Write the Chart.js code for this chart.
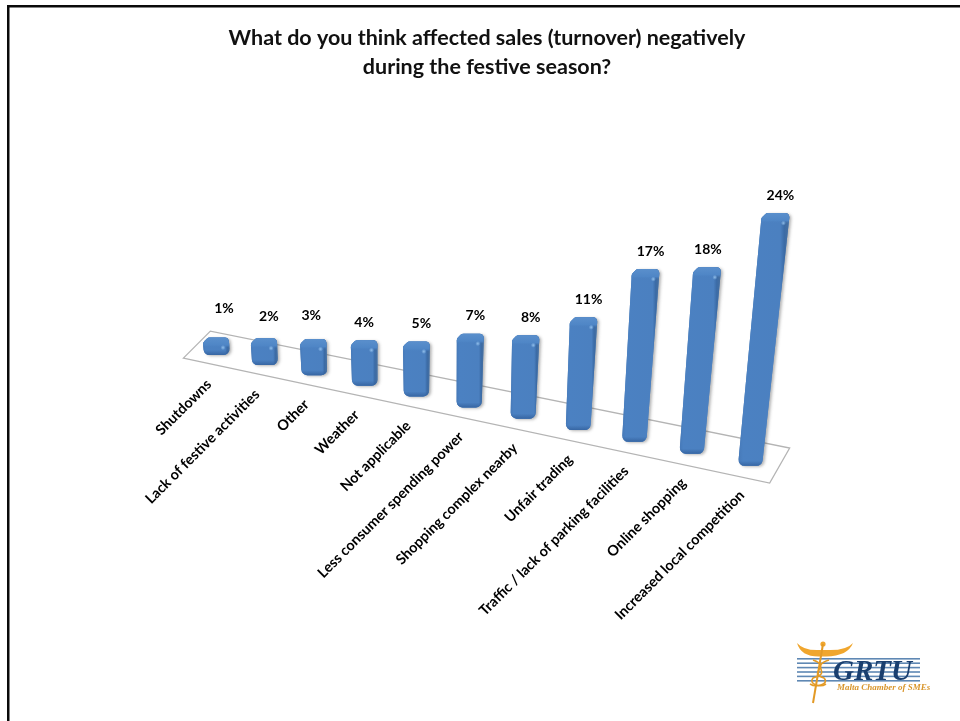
<!DOCTYPE html>
<html><head><meta charset="utf-8">
<style>html,body{margin:0;padding:0;background:#fff}canvas{display:block}</style>
<script src="https://cdn.jsdelivr.net/npm/chart.js@4"></script>
</head><body><canvas id="c" width="960" height="721"></canvas>
<script>
const categories = ["Shutdowns","Lack of festive activities","Other","Weather","Not applicable","Less consumer spending power","Shopping complex nearby","Unfair trading","Traffic / lack of parking facilities","Online shopping","Increased local competition"];
const values = [1,2,3,4,5,7,8,11,17,18,24];
const titleLines = ["What do you think affected sales (turnover) negatively","during the festive season?"];

const FONT = 'Lato, "Open Sans", sans-serif';
let chartRef = null;

// perspective floor: category pixel -> point on slanted floor
function project(px){
  const a = chartRef.chartArea, n = categories.length;
  const u = ((px - a.left) / (a.right - a.left) - 0.5 / n) * n / (n - 1);
  const bx = 217 + 533 * (0.892 * u + 0.108 * u * u);
  return {u, bx, by: 355 + 0.208 * (bx - 217)};
}
function barGeom(el){
  const p = el.getProps(['x','y','base'], true);
  const f = project(p.x);
  const near = Math.max(0, f.u - 0.5);
  const H = (p.base - p.y) * (0.94 + 0.32 * near * near) + 8;
  const lean = 0.0003 * (f.bx - 415);
  return {f, H, xb: f.bx, yb: f.by, xt: f.bx + lean * H, yt: f.by - H,
          wb: 26 - 2 * f.u, wt: 26 + 2 * f.u};
}
// rounded polygon; each point may carry its own corner radius as third item
function roundPoly(ctx, pts){
  const n = pts.length, m = i => pts[(i + n) % n];
  ctx.beginPath();
  ctx.moveTo((m(-1)[0] + m(0)[0]) / 2, (m(-1)[1] + m(0)[1]) / 2);
  for (let i = 0; i < n; i++) ctx.arcTo(m(i)[0], m(i)[1], (m(i)[0] + m(i+1)[0]) / 2, (m(i)[1] + m(i+1)[1]) / 2, m(i)[2]);
  ctx.closePath();
}

class Bar3D extends Chart.BarElement {
  draw(ctx){
    const g = barGeom(this);
    const L = g.xt - g.wt / 2, R = g.xt + g.wt / 2, l = g.xb - g.wb / 2, r = g.xb + g.wb / 2;
    const outline = [[L, g.yt + 5, 4], [L + 5, g.yt, 4], [R - 1, g.yt, 4], [R, g.yt + 4, 4], [r, g.yb, 6], [l, g.yb, 6]];
    ctx.save();
    ctx.shadowColor = 'rgba(90,90,90,0.45)'; ctx.shadowOffsetX = 2; ctx.shadowOffsetY = 1; ctx.shadowBlur = 3;
    roundPoly(ctx, outline);
    ctx.fillStyle = '#4a7ebb'; ctx.fill();
    ctx.restore();
    ctx.save();
    roundPoly(ctx, outline);
    ctx.clip();
    const x0 = Math.min(L, l), x1 = Math.max(R, r);
    const gr = ctx.createLinearGradient(x0, 0, x1, 0);
    gr.addColorStop(0, '#4679b8'); gr.addColorStop(0.1, '#4b81c2');
    gr.addColorStop(0.82, '#4b80c0'); gr.addColorStop(0.9, '#3b6ba6'); gr.addColorStop(1, '#4a719f');
    ctx.fillStyle = gr; ctx.fillRect(x0 - 1, g.yt - 1, x1 - x0 + 2, g.H + 2);
    // top bevel
    const cap = ctx.createLinearGradient(0, g.yt, 0, g.yt + 10);
    cap.addColorStop(0, '#5a8fcc'); cap.addColorStop(0.75, '#4f86c6'); cap.addColorStop(1, 'rgba(75,128,192,0)');
    ctx.fillStyle = cap; ctx.fillRect(x0 - 1, g.yt - 1, x1 - x0 + 2, 11);
    // bottom edge
    const bot = ctx.createLinearGradient(0, g.yb - 5, 0, g.yb);
    bot.addColorStop(0, 'rgba(50,95,155,0)'); bot.addColorStop(1, 'rgba(50,95,155,0.8)');
    ctx.fillStyle = bot; ctx.fillRect(x0 - 1, g.yb - 5, x1 - x0 + 2, 6);
    // specular dot
    const hx = g.xt + g.wt / 2 - 6, hy = g.yt + 10;
    const sp = ctx.createRadialGradient(hx, hy, 0, hx, hy, 2.5);
    sp.addColorStop(0, 'rgba(160,205,245,0.8)'); sp.addColorStop(1, 'rgba(160,205,245,0)');
    ctx.fillStyle = sp; ctx.fillRect(hx - 3, hy - 3, 6, 6);
    ctx.restore();
  }
}
Bar3D.id = 'bar3d';
Bar3D.defaults = {...Chart.BarElement.defaults};
class Bar3DController extends Chart.BarController {}
Bar3DController.id = 'bar3d';
Bar3DController.defaults = {...Chart.BarController.defaults, dataElementType: 'bar3d'};
Bar3DController.overrides = Chart.BarController.overrides;
Chart.register(Bar3D, Bar3DController);

const floorPlugin = {
  id: 'floor',
  beforeInit(chart){ chartRef = chart; },
  beforeDatasetsDraw(chart){
    const a = chart.chartArea, c = chart.ctx;
    const L = project(a.left), R = project(a.right);
    c.save();
    c.beginPath();
    c.moveTo(L.bx - 10, L.by + 8);
    c.lineTo(L.bx + 17, L.by - 19);
    c.lineTo(R.bx + 10, R.by - 24);
    c.lineTo(R.bx - 10, R.by + 11);
    c.closePath();
    c.fillStyle = '#fff'; c.fill();
    c.strokeStyle = '#b4b4b4'; c.lineWidth = 1.3; c.stroke();
    c.restore();
  }
};
// the source's value labels were hand-nudged off their default spot
const labelNudge = {0:[3,-11], 1:[0,-4], 2:[-7,-6], 3:[-5,0], 9:[-4,0]};
const textPlugin = {
  id: 'texts',
  afterDatasetsDraw(chart){
    const c = chart.ctx, meta = chart.getDatasetMeta(0);
    c.save();
    c.fillStyle = '#000';
    meta.data.forEach((el, i) => {
      const g = barGeom(el);
      const nudge = labelNudge[i] || [0, 0];
      c.font = 'bold 14px ' + FONT;
      c.textAlign = 'center'; c.textBaseline = 'middle';
      c.fillText(values[i] + '%', g.xt + 5 + nudge[0], g.yt - 18 + nudge[1]);
      c.save();
      c.font = 'bold 14.4px ' + FONT;
      c.translate(g.xb - 8, g.yb + 27);
      c.rotate(-Math.PI / 4);
      c.textAlign = 'right';
      c.fillText(categories[i], 0, 0);
      c.restore();
    });
    c.restore();
  },
  afterDraw(chart){
    const c = chart.ctx;
    c.save();
    // page frame
    c.fillStyle = '#0a0a0a';
    c.fillRect(7, 5, 953, 2.5);
    c.fillRect(7, 5, 2.5, 716);
    // logo
    c.fillStyle = '#5f88b4';
    for (let y = 658; y <= 680; y += 4.4) c.fillRect(797, y, 123, 1.6);
    c.fillStyle = '#f0a62e';
    c.beginPath(); c.moveTo(797,643); c.quadraticCurveTo(801,657,820,656.5); c.lineTo(826,656.5);
    c.quadraticCurveTo(848,656,853,643); c.quadraticCurveTo(846,651,826,650); c.lineTo(820,650);
    c.quadraticCurveTo(804,651,797,643); c.closePath(); c.fill();
    c.beginPath(); c.arc(823,644,2.6,0,Math.PI*2); c.fill();
    c.strokeStyle = '#e39a26'; c.lineWidth = 2;
    c.beginPath(); c.moveTo(823,644); c.lineTo(813,703); c.stroke();
    c.lineWidth = 1.6;
    c.beginPath(); c.moveTo(813,660); c.bezierCurveTo(833,667,806,672,824,678); c.bezierCurveTo(830,684,816,688,810,684); c.stroke();
    c.beginPath(); c.moveTo(829,660); c.bezierCurveTo(808,667,834,672,813,678); c.bezierCurveTo(808,684,820,688,826,684); c.stroke();
    c.fillStyle = '#1a3f6f';
    c.font = 'italic bold 29px "Liberation Serif", serif';
    c.textAlign = 'left'; c.textBaseline = 'alphabetic';
    c.fillText('GRTU', 833, 680);
    c.fillStyle = '#d9962c';
    c.font = 'italic bold 9px "Liberation Serif", serif';
    c.fillText('Malta Chamber of SMEs', 837, 690);
    c.restore();
  }
};

new Chart(document.getElementById('c'), {
  type: 'bar3d',
  data: { labels: categories, datasets: [{ data: values, backgroundColor: '#4a7ebb', clip: false }] },
  plugins: [floorPlugin, textPlugin],
  options: {
    responsive: false,
    animation: false,
    layout: { padding: { left: 14, right: 0, top: 24, bottom: 279 } },
    plugins: {
      legend: { display: false },
      tooltip: { enabled: false },
      title: { display: true, text: titleLines, color: '#111', padding: {top:0,bottom:60},
               font: { family: FONT, size: 21.5, weight: 'bold', lineHeight: 1.35 } }
    },
    scales: {
      x: { display: false },
      y: { display: false, min: 0, max: 30 }
    }
  }
});
</script></body></html>
